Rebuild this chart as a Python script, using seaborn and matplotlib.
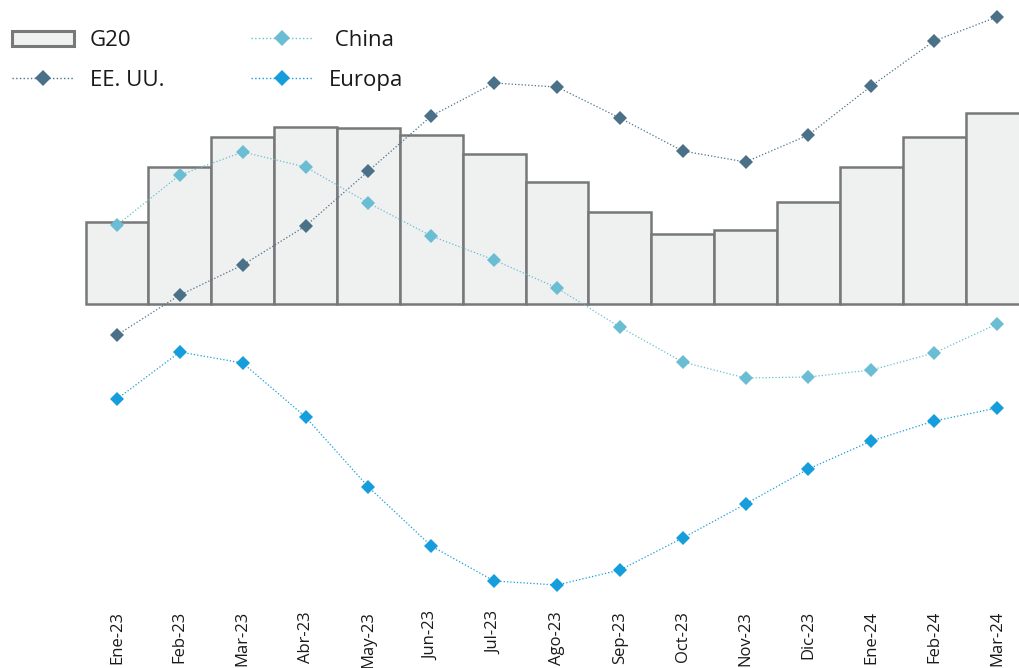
import matplotlib
matplotlib.use("Agg")
import matplotlib.pyplot as plt
import seaborn as sns
import pandas as pd
import numpy as np
from matplotlib.patches import Patch
from matplotlib.lines import Line2D

meses = ["Ene-23", "Feb-23", "Mar-23", "Abr-23", "May-23", "Jun-23", "Jul-23",
         "Ago-23", "Sep-23", "Oct-23", "Nov-23", "Dic-23", "Ene-24", "Feb-24", "Mar-24"]
g20 = [4.1, 6.85, 8.35, 8.85, 8.8, 8.45, 7.5, 6.1, 4.6, 3.5, 3.7, 5.1, 6.85, 8.35, 9.55]
eeuu = [-1.55, 0.45, 1.95, 3.9, 6.65, 9.4, 11.05, 10.85, 9.3, 7.65, 7.1, 8.45, 10.9, 13.15, 14.35]
china = [3.95, 6.45, 7.6, 6.85, 5.05, 3.4, 2.2, 0.8, -1.15, -2.9, -3.7, -3.65, -3.3, -2.45, -1.0]
europa = [-4.75, -2.4, -2.95, -5.65, -9.15, -12.1, -13.85, -14.05, -13.3, -11.7, -10.0, -8.25, -6.85, -5.85, -5.2]

df = pd.DataFrame({"mes": meses, "G20": g20, "EE. UU.": eeuu, "China": china, "Europa": europa})

sns.set_theme(style="white")
plt.rcParams["font.family"] = ["Open Sans", "DejaVu Sans"]

W, H = 1019, 668
fig = plt.figure(figsize=(W / 100, H / 100), dpi=100)
ax = fig.add_axes([0, (H - 600) / H, 1, 600 / H])

bar_fc = "#eff0f0"
bar_ec = "#777879"
c_us = "#4b7189"
c_cn = "#6bbdd3"
c_eu = "#169ddb"

sns.barplot(data=df, x="mes", y="G20", color=bar_fc, edgecolor=bar_ec,
            linewidth=1.8, width=1.0, saturation=1, ax=ax, zorder=1)

for col, c in [("EE. UU.", c_us), ("China", c_cn), ("Europa", c_eu)]:
    sns.pointplot(data=df, x="mes", y=col, color=c, markers="D", linestyles=":",
                  errorbar=None, ax=ax, linewidth=0.9, markersize=7.5,
                  markeredgewidth=0, zorder=3)

x0 = (0 - 117) / 62.857
x1 = (W - 117) / 62.857
ax.set_xlim(x0, x1)
ax.set_ylim((304 - 600) / 20, 304 / 20)
ax.set_xlabel("")
ax.set_ylabel("")
ax.set_yticks([])
for s in ax.spines.values():
    s.set_visible(False)
ax.tick_params(axis="x", length=0, pad=8, labelsize=12, labelcolor="#1a1a1a")
plt.setp(ax.get_xticklabels(), rotation=90, va="top", ha="center")

handles = [
    Patch(facecolor=bar_fc, edgecolor=bar_ec, linewidth=2.2),
    Line2D([], [], color=c_us, linestyle=":", linewidth=1.0, marker="D", markersize=8, markeredgewidth=0),
    Line2D([], [], color=c_cn, linestyle=":", linewidth=1.0, marker="D", markersize=8, markeredgewidth=0),
    Line2D([], [], color=c_eu, linestyle=":", linewidth=1.0, marker="D", markersize=8, markeredgewidth=0),
]
labels = ["G20", "EE. UU.", " China", "Europa"]
leg = fig.legend(handles, labels, loc="upper left", bbox_to_anchor=(12 / W, 1 - 30 / H),
                 ncol=2, frameon=False, fontsize=16, handlelength=2.8, handleheight=0.65,
                 handletextpad=0.7, columnspacing=3.9, labelspacing=0.85, borderpad=0,
                 borderaxespad=0)
for t in leg.get_texts():
    t.set_color("#1a1a1a")

fig.savefig("out.png", dpi=100)
